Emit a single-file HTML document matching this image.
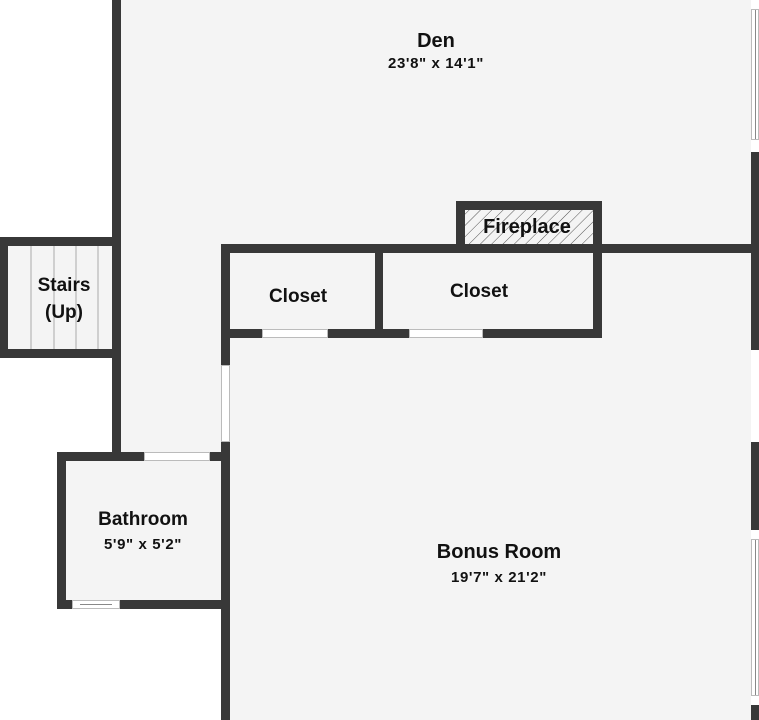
<!DOCTYPE html>
<html><head><meta charset="utf-8"><style>
html,body{margin:0;padding:0;background:#fff;width:759px;height:720px;overflow:hidden}
svg{display:block}
text{font-family:"Liberation Sans","DejaVu Sans",sans-serif;font-weight:bold;fill:#111;text-anchor:middle}
.d{letter-spacing:0.6px}
</style></head><body>
<svg width="759" height="720" viewBox="0 0 759 720" xmlns="http://www.w3.org/2000/svg">
<defs>
<pattern id="h" width="8" height="8" patternUnits="userSpaceOnUse" patternTransform="rotate(45)">
<rect width="8" height="8" fill="#f4f4f4"/><line x1="0" y1="0" x2="0" y2="8" stroke="#555" stroke-width="1"/>
</pattern>
</defs>
<rect x="121" y="0" width="630" height="609" fill="#f4f4f4"/>
<rect x="221" y="609" width="530" height="111" fill="#f4f4f4"/>
<rect x="0" y="237" width="121" height="121" fill="#f4f4f4"/>
<rect x="57" y="452" width="173" height="157" fill="#f4f4f4"/>
<rect x="465" y="210" width="128" height="34" fill="url(#h)"/>
<g stroke="#aaa" stroke-width="1">
<line x1="31" y1="246" x2="31" y2="349"/><line x1="54" y1="246" x2="54" y2="349"/>
<line x1="76" y1="246" x2="76" y2="349"/><line x1="98" y1="246" x2="98" y2="349"/>
</g>
<g fill="#383838">
<rect x="112" y="0" width="9" height="460"/>
<rect x="0" y="237" width="121" height="9"/>
<rect x="0" y="349" width="121" height="9"/>
<rect x="0" y="237" width="8" height="121"/>
<rect x="221" y="244" width="538" height="9"/>
<rect x="221" y="244" width="9" height="121"/>
<rect x="221" y="442" width="9" height="278"/>
<rect x="375" y="244" width="8" height="94"/>
<rect x="593" y="201" width="9" height="137"/>
<rect x="456" y="201" width="146" height="9"/>
<rect x="456" y="201" width="9" height="52"/>
<rect x="221" y="329" width="41" height="9"/>
<rect x="328" y="329" width="81" height="9"/>
<rect x="483" y="329" width="119" height="9"/>
<rect x="57" y="452" width="87" height="9"/>
<rect x="210" y="452" width="20" height="9"/>
<rect x="57" y="452" width="9" height="157"/>
<rect x="57" y="600" width="15" height="9"/>
<rect x="120" y="600" width="110" height="9"/>
<rect x="751" y="152" width="8" height="198"/>
<rect x="751" y="442" width="8" height="88"/>
<rect x="751" y="705" width="8" height="15"/>
</g>
<g fill="#fff" stroke="#bbb" stroke-width="1">
<rect x="262.5" y="329.5" width="65" height="8"/>
<rect x="409.5" y="329.5" width="73" height="8"/>
<rect x="144.5" y="452.5" width="65" height="8"/>
<rect x="221.5" y="365.5" width="8" height="76"/>
<rect x="72.5" y="600.5" width="47" height="8"/>
<rect x="751.5" y="9.5" width="7" height="130"/>
<rect x="751.5" y="539.5" width="7" height="156"/>
</g>
<g stroke="#888" stroke-width="1">
<line x1="80" y1="604.5" x2="112" y2="604.5"/>
<line x1="755.5" y1="10" x2="755.5" y2="139"/>
<line x1="755.5" y1="540" x2="755.5" y2="695"/>
</g>
<text x="436" y="47" font-size="20">Den</text>
<text class="d" x="436" y="68" font-size="15">23'8" x 14'1"</text>
<text x="527" y="233" font-size="20">Fireplace</text>
<text x="64" y="291" font-size="19">Stairs</text>
<text x="64" y="318" font-size="19">(Up)</text>
<text x="298" y="302" font-size="19">Closet</text>
<text x="479" y="297" font-size="19">Closet</text>
<text x="143" y="525" font-size="19">Bathroom</text>
<text class="d" x="143" y="549" font-size="15">5'9" x 5'2"</text>
<text x="499" y="558" font-size="20">Bonus Room</text>
<text class="d" x="499" y="582" font-size="15">19'7" x 21'2"</text>
</svg>
</body></html>
